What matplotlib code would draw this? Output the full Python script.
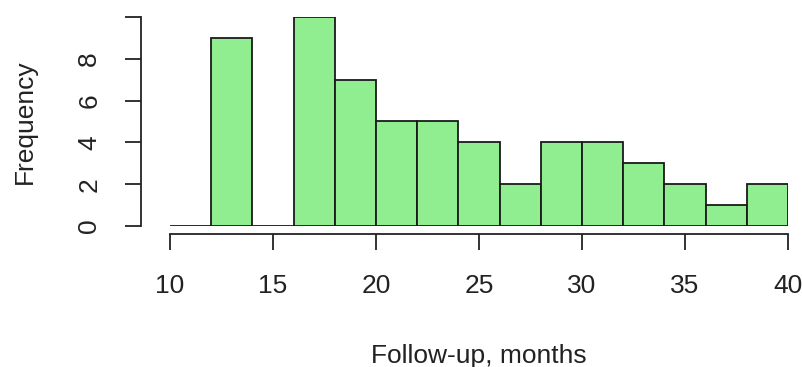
import matplotlib.pyplot as plt

# histogram of follow-up time, 2-month bins
bin_edges = [10, 12, 14, 16, 18, 20, 22, 24, 26, 28, 30, 32, 34, 36, 38, 40]
counts = [0, 9, 0, 10, 7, 5, 5, 4, 2, 4, 4, 3, 2, 1, 2]
x_ticks = [10, 15, 20, 25, 30, 35, 40]
y_ticks = [0, 2, 4, 6, 8, 10]
y_labels = ['0', '2', '4', '6', '8', '']

plt.rcParams['font.family'] = ['Liberation Sans', 'DejaVu Sans']

fig = plt.figure(figsize=(8.03, 3.67), dpi=100)
ax = fig.add_axes([170 / 803, 1 - 226 / 367, 618 / 803, 209 / 367])

widths = [b - a for a, b in zip(bin_edges[:-1], bin_edges[1:])]
ax.bar(bin_edges[:-1], counts, width=widths, align='edge',
       color='#90EE90', edgecolor='#1a1a1a', linewidth=1.3)

ax.set_xlim(10, 40)
ax.set_ylim(0, 10)
ax.set_xticks(x_ticks)
ax.set_yticks(y_ticks)
ax.set_yticklabels(y_labels)

for side in ('top', 'right'):
    ax.spines[side].set_visible(False)
ax.spines['left'].set_position(('outward', 21))
ax.spines['bottom'].set_position(('outward', 6))
ax.spines['left'].set_bounds(0, 10)
ax.spines['bottom'].set_bounds(10, 40)
for side in ('left', 'bottom'):
    ax.spines[side].set_linewidth(1.3)
    ax.spines[side].set_color('#222222')

ax.tick_params(axis='both', length=11.5, width=1.3, color='#222222',
               labelsize=19, labelcolor='#222222', pad=17)
ax.tick_params(axis='y', labelrotation=90)
for lab in ax.get_yticklabels():
    lab.set_verticalalignment('center')

ax.set_xlabel('Follow-up, months', fontsize=19, color='#222222', labelpad=33)
ax.set_ylabel('Frequency', fontsize=19, color='#222222', labelpad=29)

fig.savefig('out.png', dpi=100)
